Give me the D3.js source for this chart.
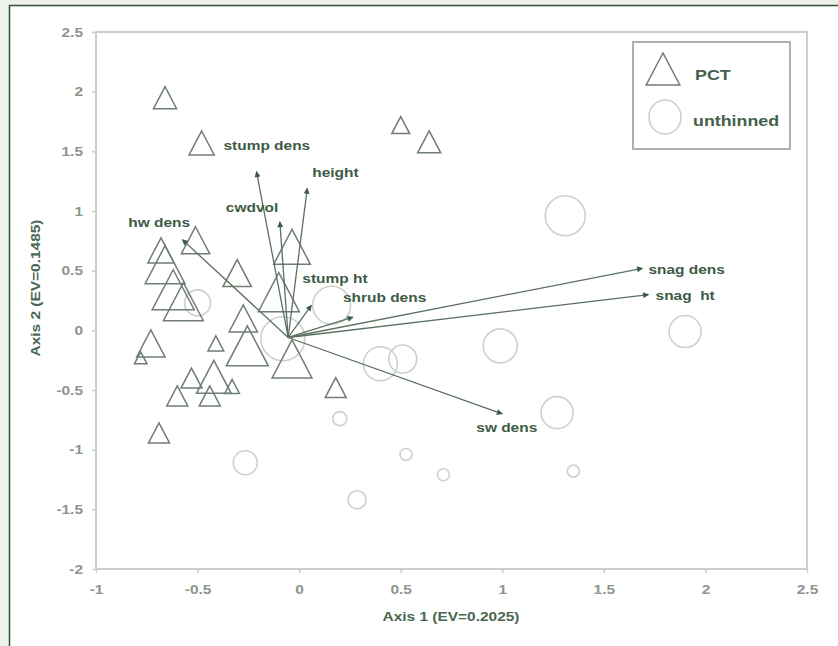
<!DOCTYPE html>
<html>
<head>
<meta charset="utf-8">
<script src="https://cdn.jsdelivr.net/npm/d3@7"></script>
<style>
  html, body { margin: 0; padding: 0; background: #eef1ee; }
  svg { display: block; }
  text { font-family: "Liberation Sans", Arial, sans-serif; }
</style>
</head>
<body>
<svg id="chart" width="838" height="646"></svg>
<script>
// ---- data -------------------------------------------------------------
// PCT plots: ordination scores on axis 1 / axis 2 and relative symbol size
const pctX    = [-0.66, -0.48, 0.50, 0.64, -0.51, -0.68, -0.66, -0.62, -0.57, -0.305, -0.275, -0.255, -0.035, -0.10, -0.035, -0.41, -0.73, -0.78, -0.53, -0.42, -0.33, -0.44, -0.60, -0.69, 0.18];
const pctY    = [1.95, 1.57, 1.72, 1.58, 0.755, 0.67, 0.55, 0.34, 0.24, 0.48, 0.10, -0.13, -0.24, 0.32, 0.70, -0.11, -0.11, -0.23, -0.40, -0.39, -0.47, -0.55, -0.55, -0.86, -0.48];
const pctSize = [22, 24, 17, 22, 27, 25, 38, 40, 38, 27, 27, 40, 38, 39, 35, 15, 27, 12, 20, 33, 14, 20, 20, 20, 20];

// unthinned plots
const untX    = [1.31, 1.90, 0.99, 0.40, 0.51, 1.27, 0.16, -0.08, -0.50, 0.20, -0.265, 0.285, 0.526, 0.71, 1.35];
const untY    = [0.96, -0.01, -0.13, -0.28, -0.24, -0.69, 0.21, -0.07, 0.23, -0.74, -1.11, -1.42, -1.04, -1.21, -1.18];
const untSize = [20, 16, 17, 17, 14, 16, 19, 22, 13, 7, 12, 9, 6, 6, 6];

// environmental vectors (joint plot), drawn from the centroid
const vecOrigin = [-0.054, -0.06];
const vecNames  = ["stump dens", "height", "cwdvol", "hw dens", "stump ht", "shrub dens", "snag dens", "snag  ht", "sw dens"];
const vecX      = [-0.21, 0.04, -0.095, -0.575, 0.06, 0.265, 1.69, 1.72, 1.00];
const vecY      = [1.33, 1.19, 0.91, 0.76, 0.21, 0.11, 0.52, 0.30, -0.70];

const xTicks = [-1, -0.5, 0, 0.5, 1, 1.5, 2, 2.5];
const yTicks = [-2, -1.5, -1, -0.5, 0, 0.5, 1, 1.5, 2, 2.5];
const groupNames = ["PCT", "unthinned"];
const xTitle = "Axis 1 (EV=0.2025)";
const yTitle = "Axis 2 (EV=0.1485)";

// ---- layout ----------------------------------------------------------
const plot = { left: 96, right: 807, top: 32, bottom: 569 };
const SX = 1.19;                    // horizontal stretch of all lettering
const textColor = "#3d5b44";
const triColor = "#6f7d72";
const circColor = "#cdd0cd";
const vecColor = "#5b705f";

// label offsets (px) from each vector tip: [dx to left edge, dy to middle]
const labelOffset = {
  "stump dens": [-33, -25], "height": [5, -15], "cwdvol": [-54, -13],
  "hw dens": [-54, -16], "stump ht": [-9, -26], "shrub dens": [-10, -19],
  "snag dens": [6, 2], "snag  ht": [7, 2], "sw dens": [-26, 15]
};

const svg = d3.select("#chart");

// outer white panel
svg.append("rect")
  .attr("x", 9.5).attr("y", 5.5).attr("width", 840).attr("height", 650)
  .attr("fill", "#ffffff").attr("stroke", "#2f5535").attr("stroke-width", 1.5);

const x = d3.scaleLinear().domain([-1, 2.5]).range([plot.left, plot.right]);
const y = d3.scaleLinear().domain([-2, 2.5]).range([plot.bottom, plot.top]);

function stretchedText(sel, px, py, str) {
  return sel.append("g")
    .attr("transform", `translate(${px},${py}) scale(${SX},1)`)
    .append("text").text(str);
}

// axes
const fmt = v => String(v);
const xAxis = svg.append("g")
  .attr("transform", `translate(0,${plot.bottom})`)
  .call(d3.axisBottom(x).tickValues(xTicks).tickFormat(fmt).tickSize(4).tickSizeOuter(0).tickPadding(12));
const yAxis = svg.append("g")
  .attr("transform", `translate(${plot.left},0)`)
  .call(d3.axisLeft(y).tickValues(yTicks).tickFormat(fmt).tickSize(4).tickSizeOuter(0).tickPadding(9));

[xAxis, yAxis].forEach(a => {
  a.select(".domain").remove();
  a.selectAll(".tick line").attr("stroke", "#c9cdc9").attr("stroke-width", 1.5);
  a.selectAll(".tick text")
    .attr("fill", "#8d938d")
    .attr("font-size", 13)
    .attr("font-weight", "bold")
    .attr("font-family", "Liberation Sans, Arial, sans-serif");
});
// widen tick lettering like the rest of the type
xAxis.selectAll(".tick text").each(function () {
  d3.select(this).attr("transform", `scale(${SX},1)`);
});
yAxis.selectAll(".tick text").each(function () {
  const t = d3.select(this);
  const xx = +t.attr("x");
  t.attr("transform", `translate(${xx},0) scale(${SX},1) translate(${-xx},0)`);
});

// plot frame
svg.append("rect")
  .attr("x", plot.left).attr("y", plot.top)
  .attr("width", plot.right - plot.left).attr("height", plot.bottom - plot.top)
  .attr("fill", "none").attr("stroke", "#cbcfcb").attr("stroke-width", 2);

// axis titles
stretchedText(svg, (plot.left + plot.right) / 2 - 0.5, 618, xTitle)
  .attr("text-anchor", "middle").attr("dominant-baseline", "middle")
  .attr("font-size", 13).attr("font-weight", "bold").attr("fill", "#4a6650");
svg.append("g")
  .attr("transform", `translate(37,288) rotate(-90) scale(${SX},1)`)
  .append("text").text(yTitle)
  .attr("text-anchor", "middle").attr("dominant-baseline", "middle")
  .attr("font-size", 13).attr("font-weight", "bold").attr("fill", "#4a6650");

// symbols
const triPath = (h) => {
  const w = h * 1.05;
  return `M0,${-h / 2}L${w / 2},${h / 2}L${-w / 2},${h / 2}Z`;
};

const untData = untX.map((v, i) => ({ x: v, y: untY[i], s: untSize[i] }));
svg.append("g").selectAll("circle").data(untData).join("circle")
  .attr("cx", d => x(d.x)).attr("cy", d => y(d.y)).attr("r", d => d.s)
  .attr("fill", "none").attr("stroke", circColor).attr("stroke-width", 1.6);

const pctData = pctX.map((v, i) => ({ x: v, y: pctY[i], s: pctSize[i] }));
svg.append("g").selectAll("path").data(pctData).join("path")
  .attr("transform", d => `translate(${x(d.x)},${y(d.y)})`)
  .attr("d", d => triPath(d.s))
  .attr("fill", "none").attr("stroke", triColor).attr("stroke-width", 1.5)
  .attr("stroke-linejoin", "miter");

// vectors
svg.append("defs").append("marker")
  .attr("id", "head").attr("viewBox", "0 0 10 10")
  .attr("refX", 9).attr("refY", 5)
  .attr("markerWidth", 7).attr("markerHeight", 6).attr("markerUnits", "userSpaceOnUse")
  .attr("orient", "auto")
  .append("path").attr("d", "M0,0L10,5L0,10Z").attr("fill", "#3d5a44");

const vecData = vecNames.map((n, i) => ({ name: n, x: vecX[i], y: vecY[i] }));
const vg = svg.append("g");
vg.selectAll("line").data(vecData).join("line")
  .attr("x1", x(vecOrigin[0])).attr("y1", y(vecOrigin[1]))
  .attr("x2", d => x(d.x)).attr("y2", d => y(d.y))
  .attr("stroke", vecColor).attr("stroke-width", 1.3)
  .attr("marker-end", "url(#head)");

vecData.forEach(d => {
  const off = labelOffset[d.name];
  stretchedText(vg, x(d.x) + off[0], y(d.y) + off[1], d.name)
    .attr("dominant-baseline", "middle")
    .attr("font-size", 13).attr("font-weight", "bold")
    .attr("fill", textColor).style("white-space", "pre");
});

// legend
const lg = svg.append("g");
lg.append("rect")
  .attr("x", 633).attr("y", 42).attr("width", 157).attr("height", 107)
  .attr("fill", "#ffffff").attr("stroke", "#aab1ab").attr("stroke-width", 2);
lg.append("path")
  .attr("transform", "translate(663,69)")
  .attr("d", triPath(32))
  .attr("fill", "none").attr("stroke", triColor).attr("stroke-width", 1.5);
lg.append("ellipse")
  .attr("cx", 665).attr("cy", 117).attr("rx", 16).attr("ry", 17)
  .attr("fill", "none").attr("stroke", circColor).attr("stroke-width", 1.6);
groupNames.forEach((g, i) => {
  stretchedText(lg, i === 0 ? 695 : 693, i === 0 ? 76 : 122, g)
    .attr("dominant-baseline", "middle")
    .attr("font-size", 15).attr("font-weight", "bold").attr("fill", "#45604b");
});
</script>
</body>
</html>
